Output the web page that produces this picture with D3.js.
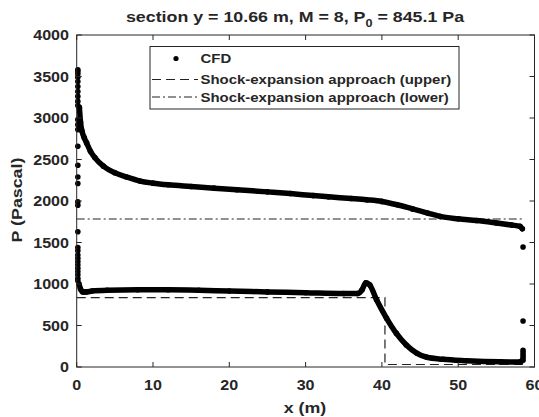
<!DOCTYPE html>
<html lang="en">
<head>
<meta charset="UTF-8">
<title>Pressure section</title>
<style>
    body { margin: 0; background: #fff; }
    svg text { font-family: "Liberation Sans", Arial, sans-serif; font-weight: bold; fill: #262626; }
</style>
</head>
<body>
<svg id="chart" width="539" height="417"></svg>
<script src="https://d3js.org/d3.v7.min.js"></script>
<script>
// CFD, upper surface (continuous band)
const upperX = [0.35, 0.5, 0.7, 1.0, 1.3, 1.8, 2.4, 3.5, 5.0, 6.5, 8.3, 10, 12, 15, 18, 21, 25, 28, 31, 33, 36, 38, 40, 42, 44, 46, 47.6, 50, 52.4, 55, 57, 58.1, 58.4];
const upperP = [3130, 2950, 2840, 2760, 2700, 2600, 2520, 2420, 2340, 2290, 2240, 2215, 2195, 2175, 2155, 2135, 2110, 2090, 2065, 2050, 2030, 2015, 1995, 1955, 1905, 1855, 1815, 1785, 1765, 1735, 1710, 1695, 1665];

// CFD, lower surface
const lowerX = [0.3, 0.5, 0.8, 1.2, 2, 4, 8, 12, 16, 20, 25, 30, 35, 36.8, 37.4, 37.9, 38.4, 39.3, 40.6, 41.9, 43.2, 44.6, 45.9, 48, 51.1, 55.5, 58.1, 58.4];
const lowerP = [1000, 940, 905, 905, 915, 925, 930, 930, 925, 915, 905, 895, 885, 885, 930, 1015, 990, 810, 590, 405, 265, 165, 117, 93, 76, 62, 60, 80];

// CFD, scattered points at the leading and trailing edges
const edgeX = [0.15, 0.15, 0.15, 0.15, 0.15, 0.15, 0.15, 0.15, 0.15, 0.15, 0.15, 0.15, 0.15, 0.15, 0.15, 0.15, 0.15, 0.15, 0.15, 0.15, 0.15, 0.15, 0.15, 0.15, 0.15, 0.15, 0.15, 0.15, 0.15, 0.15, 0.15,
               58.5, 58.5, 58.5, 58.5, 58.5, 58.5, 58.5];
const edgeP = [3580, 3560, 3530, 3490, 3440, 3380, 3320, 3260, 3200, 3150, 2980, 2920, 2860, 2660, 2430, 2290, 2210, 1990, 1950, 1630, 1440, 1400, 1350, 1310, 1270, 1230, 1190, 1150, 1110, 1070, 1040,
               1445, 555, 200, 170, 140, 110, 80];

// shock-expansion approach
const seUpperX = [0, 40.4, 40.4, 58.5];
const seUpperP = [835, 835, 30, 30];
const seLowerX = [0, 58.5];
const seLowerP = [1783, 1783];

const xTicks = [0, 10, 20, 30, 40, 50, 60];
const yTicks = [0, 500, 1000, 1500, 2000, 2500, 3000, 3500, 4000];
const legendLabels = ["CFD", "Shock-expansion approach (upper)", "Shock-expansion approach (lower)"];

const svg = d3.select("#chart");
const plotL = 76.7, plotR = 534.5, plotT = 35, plotB = 367;
const ink = "#262626";
const sx = 1.15; // text looks horizontally stretched in the original

const x = d3.scaleLinear().domain([0, 60]).range([plotL, plotR]);
const y = d3.scaleLinear().domain([0, 4000]).range([plotB, plotT]);

function label(g, txt, px, py, anchor, size, rotate) {
    return g.append("text")
        .attr("transform", `translate(${px},${py})` + (rotate ? ` rotate(${rotate})` : "") + ` scale(${sx},1)`)
        .attr("text-anchor", anchor)
        .attr("font-size", size)
        .text(txt);
}

// shock-expansion lines
const line = d3.line().x(d => x(d[0])).y(d => y(d[1]));
svg.append("path")
    .attr("d", line(d3.zip(seLowerX, seLowerP)))
    .attr("fill", "none").attr("stroke", "#222").attr("stroke-width", 1.2)
    .attr("stroke-dasharray", "8,3,2,3");
svg.append("path")
    .attr("d", line(d3.zip(seUpperX, seUpperP)))
    .attr("fill", "none").attr("stroke", "#222").attr("stroke-width", 1.2)
    .attr("stroke-dasharray", "9,5");

// CFD: dense markers drawn as a thick band plus dots
const band = d3.line().curve(d3.curveMonotoneX).x(d => x(d[0])).y(d => y(d[1]));
[[upperX, upperP], [lowerX, lowerP]].forEach(([xs, ps]) => {
    svg.append("path")
        .attr("d", band(d3.zip(xs, ps)))
        .attr("fill", "none").attr("stroke", "#000")
        .attr("stroke-width", 5.5).attr("stroke-linecap", "round").attr("stroke-linejoin", "round");
    svg.append("g").selectAll("circle")
        .data(d3.zip(xs, ps))
        .join("circle")
        .attr("cx", d => x(d[0])).attr("cy", d => y(d[1])).attr("r", 2.8).attr("fill", "#000");
});
svg.append("g").selectAll("circle")
    .data(d3.zip(edgeX, edgeP))
    .join("circle")
    .attr("cx", d => x(d[0])).attr("cy", d => y(d[1])).attr("r", 2.8).attr("fill", "#000");

// axes box with inward ticks on all sides
const axes = svg.append("g").attr("stroke", ink).attr("stroke-width", 1);
axes.append("rect")
    .attr("x", plotL).attr("y", plotT).attr("width", plotR - plotL).attr("height", plotB - plotT)
    .attr("fill", "none");
xTicks.forEach(t => {
    axes.append("line").attr("x1", x(t)).attr("x2", x(t)).attr("y1", plotB).attr("y2", plotB - 5);
    axes.append("line").attr("x1", x(t)).attr("x2", x(t)).attr("y1", plotT).attr("y2", plotT + 5);
});
yTicks.forEach(t => {
    axes.append("line").attr("x1", plotL).attr("x2", plotL + 5).attr("y1", y(t)).attr("y2", y(t));
    axes.append("line").attr("x1", plotR).attr("x2", plotR - 5).attr("y1", y(t)).attr("y2", y(t));
});

const texts = svg.append("g");
xTicks.forEach(t => label(texts, t, x(t), 390, "middle", 14));
yTicks.forEach(t => label(texts, t, 69, y(t) + 5, "end", 14));

label(texts, "x (m)", 305, 413, "middle", 15.5);
label(texts, "P (Pascal)", 22, 200, "middle", 15.5, -90);

// title with subscript
const title = texts.append("text")
    .attr("transform", `translate(295,22) scale(${sx},1)`)
    .attr("text-anchor", "middle")
    .attr("font-size", 15.5);
title.append("tspan").text("section y = 10.66 m, M = 8, P");
title.append("tspan").attr("font-size", 11).attr("dy", 5).text("0");
title.append("tspan").attr("dy", -5).text(" = 845.1 Pa");

// legend
const lg = svg.append("g");
lg.append("rect")
    .attr("x", 150).attr("y", 46.5).attr("width", 309).attr("height", 62.5)
    .attr("fill", "#fff").attr("stroke", ink).attr("stroke-width", 1);
const rowY = [58.5, 79.5, 97];
lg.append("circle").attr("cx", 176).attr("cy", rowY[0]).attr("r", 2.6).attr("fill", "#000");
lg.append("line").attr("x1", 152).attr("x2", 198).attr("y1", rowY[1]).attr("y2", rowY[1])
    .attr("stroke", "#222").attr("stroke-width", 1.2).attr("stroke-dasharray", "9,5");
lg.append("line").attr("x1", 152).attr("x2", 198).attr("y1", rowY[2]).attr("y2", rowY[2])
    .attr("stroke", "#222").attr("stroke-width", 1.2).attr("stroke-dasharray", "8,3,2,3");
legendLabels.forEach((l, i) => label(lg, l, 200.5, rowY[i] + 4.5, "start", 13));
</script>
</body>
</html>
